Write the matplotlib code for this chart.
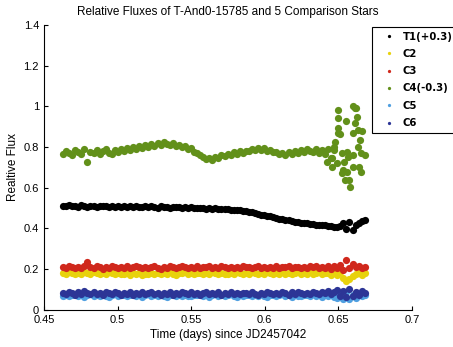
import numpy as np
import matplotlib
matplotlib.use("Agg")
import matplotlib.pyplot as plt

plt.rcParams['font.family'] = ['Liberation Sans', 'DejaVu Sans']

# relative fluxes, offsets already applied (T1 +0.3, C4 -0.3)
t1 = [0.512, 0.508, 0.514, 0.509, 0.511, 0.506, 0.513, 0.510, 0.507, 0.512,
      0.509, 0.505, 0.511, 0.508, 0.510, 0.504, 0.509, 0.507, 0.511, 0.506,
      0.508, 0.505, 0.510, 0.506, 0.509, 0.504, 0.507, 0.510, 0.505, 0.508,
      0.506, 0.503, 0.508, 0.505, 0.507, 0.502, 0.506, 0.504, 0.507, 0.503,
      0.505, 0.501, 0.504, 0.500, 0.503, 0.499, 0.502, 0.498, 0.501, 0.497,
      0.499, 0.496, 0.498, 0.494, 0.496, 0.492, 0.493, 0.489, 0.490, 0.485,
      0.484, 0.480, 0.479, 0.474, 0.473, 0.468, 0.467, 0.462, 0.460, 0.455,
      0.453, 0.448, 0.446, 0.441, 0.440, 0.436, 0.434, 0.430, 0.429, 0.426,
      0.425, 0.421, 0.422, 0.418, 0.419, 0.415, 0.416, 0.412, 0.414, 0.409,
      0.405, 0.412, 0.425, 0.398, 0.432, 0.392, 0.418, 0.428, 0.436, 0.442]

c2 = [0.182, 0.177, 0.185, 0.179, 0.174, 0.183, 0.178, 0.186, 0.180, 0.176,
      0.184, 0.179, 0.175, 0.182, 0.177, 0.185, 0.180, 0.174, 0.183, 0.178,
      0.176, 0.181, 0.173, 0.179, 0.175, 0.182, 0.172, 0.178, 0.174, 0.180,
      0.177, 0.183, 0.175, 0.180, 0.176, 0.184, 0.178, 0.173, 0.182, 0.179,
      0.184, 0.177, 0.181, 0.175, 0.183, 0.179, 0.174, 0.182, 0.178, 0.185,
      0.180, 0.176, 0.183, 0.178, 0.174, 0.182, 0.177, 0.185, 0.179, 0.175,
      0.183, 0.178, 0.186, 0.180, 0.175, 0.182, 0.177, 0.184, 0.179, 0.174,
      0.181, 0.176, 0.184, 0.178, 0.183, 0.175, 0.180, 0.185, 0.177, 0.182,
      0.178, 0.184, 0.175, 0.181, 0.186, 0.176, 0.182, 0.179, 0.173, 0.184,
      0.170, 0.186, 0.158, 0.142, 0.150, 0.168, 0.176, 0.183, 0.172, 0.179]

c3 = [0.212, 0.206, 0.215, 0.209, 0.204, 0.213, 0.208, 0.216, 0.236, 0.210,
      0.205, 0.214, 0.209, 0.203, 0.212, 0.207, 0.215, 0.210, 0.204, 0.211,
      0.208, 0.214, 0.206, 0.211, 0.216, 0.209, 0.204, 0.213, 0.207, 0.212,
      0.215, 0.208, 0.203, 0.211, 0.206, 0.214, 0.209, 0.205, 0.212, 0.217,
      0.210, 0.204, 0.213, 0.208, 0.215, 0.206, 0.211, 0.209, 0.214, 0.205,
      0.212, 0.207, 0.216, 0.210, 0.204, 0.213, 0.208, 0.211, 0.206, 0.215,
      0.209, 0.213, 0.205, 0.210, 0.216, 0.207, 0.212, 0.204, 0.211, 0.208,
      0.214, 0.206, 0.212, 0.209, 0.215, 0.204, 0.210, 0.213, 0.207, 0.211,
      0.205, 0.214, 0.209, 0.216, 0.206, 0.212, 0.208, 0.218, 0.203, 0.214,
      0.207, 0.221, 0.198, 0.246, 0.204, 0.226, 0.209, 0.217, 0.205, 0.212]

c4 = [0.768, 0.782, 0.771, 0.760, 0.785, 0.774, 0.766, 0.789, 0.725, 0.778,
      0.770, 0.786, 0.765, 0.779, 0.792, 0.772, 0.768, 0.784, 0.776, 0.790,
      0.781, 0.795, 0.786, 0.799, 0.790, 0.805, 0.796, 0.810, 0.801, 0.814,
      0.806, 0.820, 0.811, 0.824, 0.815, 0.808, 0.819, 0.803, 0.812, 0.798,
      0.806, 0.791, 0.796, 0.778, 0.772, 0.760, 0.752, 0.741, 0.748, 0.738,
      0.752, 0.747, 0.760, 0.755, 0.768, 0.762, 0.774, 0.768, 0.779, 0.772,
      0.783, 0.779, 0.790, 0.784, 0.796, 0.788, 0.794, 0.782, 0.787, 0.774,
      0.778, 0.764, 0.770, 0.762, 0.775, 0.768, 0.780, 0.772, 0.786, 0.778,
      0.789, 0.781, 0.776, 0.790, 0.772, 0.784, 0.765, 0.792, 0.748, 0.801,
      0.720, 0.865, 0.685, 0.930, 0.640, 0.762, 0.990, 0.700, 0.880, 0.760]

# extra C4 frames at the end of the night, where the scatter blows up
c4_tail_t = [0.6500, 0.6500, 0.6497, 0.6500, 0.6480, 0.6470, 0.6458, 0.6425,
             0.6458, 0.6525, 0.6536, 0.6558, 0.6569, 0.6525, 0.6547, 0.6580,
             0.6558, 0.6602, 0.6602, 0.6613, 0.6625, 0.6613, 0.6635, 0.6602,
             0.6647, 0.6635, 0.6658, 0.6658]
c4_tail = [0.982, 0.941, 0.892, 0.868, 0.827, 0.786, 0.745, 0.729,
           0.704, 0.770, 0.729, 0.778, 0.753, 0.671, 0.639, 0.606,
           0.679, 0.704, 1.002, 0.990, 0.949, 0.917, 0.884, 0.868,
           0.835, 0.802, 0.770, 0.679]

c5 = [0.070, 0.075, 0.066, 0.073, 0.078, 0.068, 0.074, 0.065, 0.071, 0.077,
      0.069, 0.074, 0.067, 0.076, 0.070, 0.065, 0.073, 0.078, 0.068, 0.072,
      0.075, 0.066, 0.071, 0.077, 0.069, 0.074, 0.064, 0.072, 0.076, 0.068,
      0.073, 0.067, 0.075, 0.070, 0.065, 0.074, 0.078, 0.069, 0.072, 0.066,
      0.074, 0.070, 0.066, 0.075, 0.071, 0.077, 0.068, 0.073, 0.065, 0.072,
      0.076, 0.069, 0.074, 0.067, 0.072, 0.078, 0.070, 0.065, 0.073, 0.068,
      0.071, 0.075, 0.066, 0.073, 0.069, 0.077, 0.070, 0.064, 0.074, 0.071,
      0.067, 0.073, 0.076, 0.069, 0.072, 0.065, 0.075, 0.070, 0.068, 0.074,
      0.071, 0.066, 0.077, 0.069, 0.073, 0.064, 0.075, 0.068, 0.072, 0.062,
      0.058, 0.078, 0.052, 0.086, 0.055, 0.072, 0.060, 0.080, 0.066, 0.074]

c6 = [0.085, 0.078, 0.090, 0.081, 0.074, 0.087, 0.080, 0.092, 0.083, 0.076,
      0.088, 0.079, 0.084, 0.073, 0.086, 0.081, 0.077, 0.089, 0.082, 0.075,
      0.083, 0.078, 0.087, 0.072, 0.084, 0.079, 0.086, 0.076, 0.082, 0.088,
      0.077, 0.083, 0.074, 0.085, 0.080, 0.087, 0.075, 0.082, 0.079, 0.086,
      0.081, 0.076, 0.088, 0.078, 0.084, 0.073, 0.082, 0.087, 0.077, 0.083,
      0.079, 0.086, 0.075, 0.083, 0.080, 0.088, 0.076, 0.084, 0.078, 0.085,
      0.082, 0.077, 0.087, 0.080, 0.074, 0.085, 0.079, 0.088, 0.081, 0.076,
      0.084, 0.078, 0.089, 0.082, 0.075, 0.086, 0.080, 0.087, 0.083, 0.077,
      0.085, 0.079, 0.090, 0.081, 0.076, 0.088, 0.083, 0.092, 0.078, 0.086,
      0.097, 0.070, 0.094, 0.062, 0.101, 0.068, 0.089, 0.075, 0.093, 0.081]

# observation times (days since JD2457042), evenly spaced frames
t_start, t_end = 0.463, 0.668
t = np.linspace(t_start, t_end, len(t1))

labels = ["T1(+0.3)", "C2", "C3", "C4(-0.3)", "C5", "C6"]
colors = ["black", "#e8d20c", "#d0281c", "#62901a", "#4f9fe0", "#2c3596"]
series = [t1, c2, c3, c4, c5, c6]

fig = plt.figure(figsize=(4.53, 3.47), dpi=100)
ax = fig.add_axes([0.097, 0.107, 0.812, 0.821])

handles = []
for y, col, lab in zip(series, colors, labels):
    h, = ax.plot(t, y, 'o', color=col, ms=5.2, mew=0, label=lab)
    handles.append(h)
    if lab.startswith("C4"):
        ax.plot(c4_tail_t, c4_tail, 'o', color=col, ms=5.2, mew=0)

ax.set_xlim(0.45, 0.7)
ax.set_ylim(0, 1.4)
ax.set_xticks([0.45, 0.5, 0.55, 0.6, 0.65, 0.7])
ax.set_xticklabels(["0.45", "0.5", "0.55", "0.6", "0.65", "0.7"])
ax.set_yticks([0, 0.2, 0.4, 0.6, 0.8, 1.0, 1.2, 1.4])
ax.set_yticklabels(["0", "0.2", "0.4", "0.6", "0.8", "1", "1.2", "1.4"])
ax.tick_params(direction='in', length=3, labelsize=8, width=0.8)
ax.spines['top'].set_visible(False)
ax.spines['right'].set_visible(False)

ax.set_title("Relative Fluxes of T-And0-15785 and 5 Comparison Stars", fontsize=8.5, pad=7)
ax.set_xlabel("Time (days) since JD2457042", fontsize=8.5, labelpad=3)
ax.set_ylabel("Realtive Flux", fontsize=8.5, labelpad=3)

leg = fig.legend(handles=handles, loc='upper left', bbox_to_anchor=(372 / 453, 1 - 27 / 347),
                 bbox_transform=fig.transFigure, borderaxespad=0, fancybox=False,
                 framealpha=1, edgecolor='black', markerscale=0.45, handlelength=2.4,
                 handletextpad=0.2, borderpad=0.45, labelspacing=0.72,
                 prop={'family': 'DejaVu Sans', 'size': 7.3, 'weight': 'bold'})
leg.get_frame().set_linewidth(0.8)

fig.savefig("out.png", dpi=100)
